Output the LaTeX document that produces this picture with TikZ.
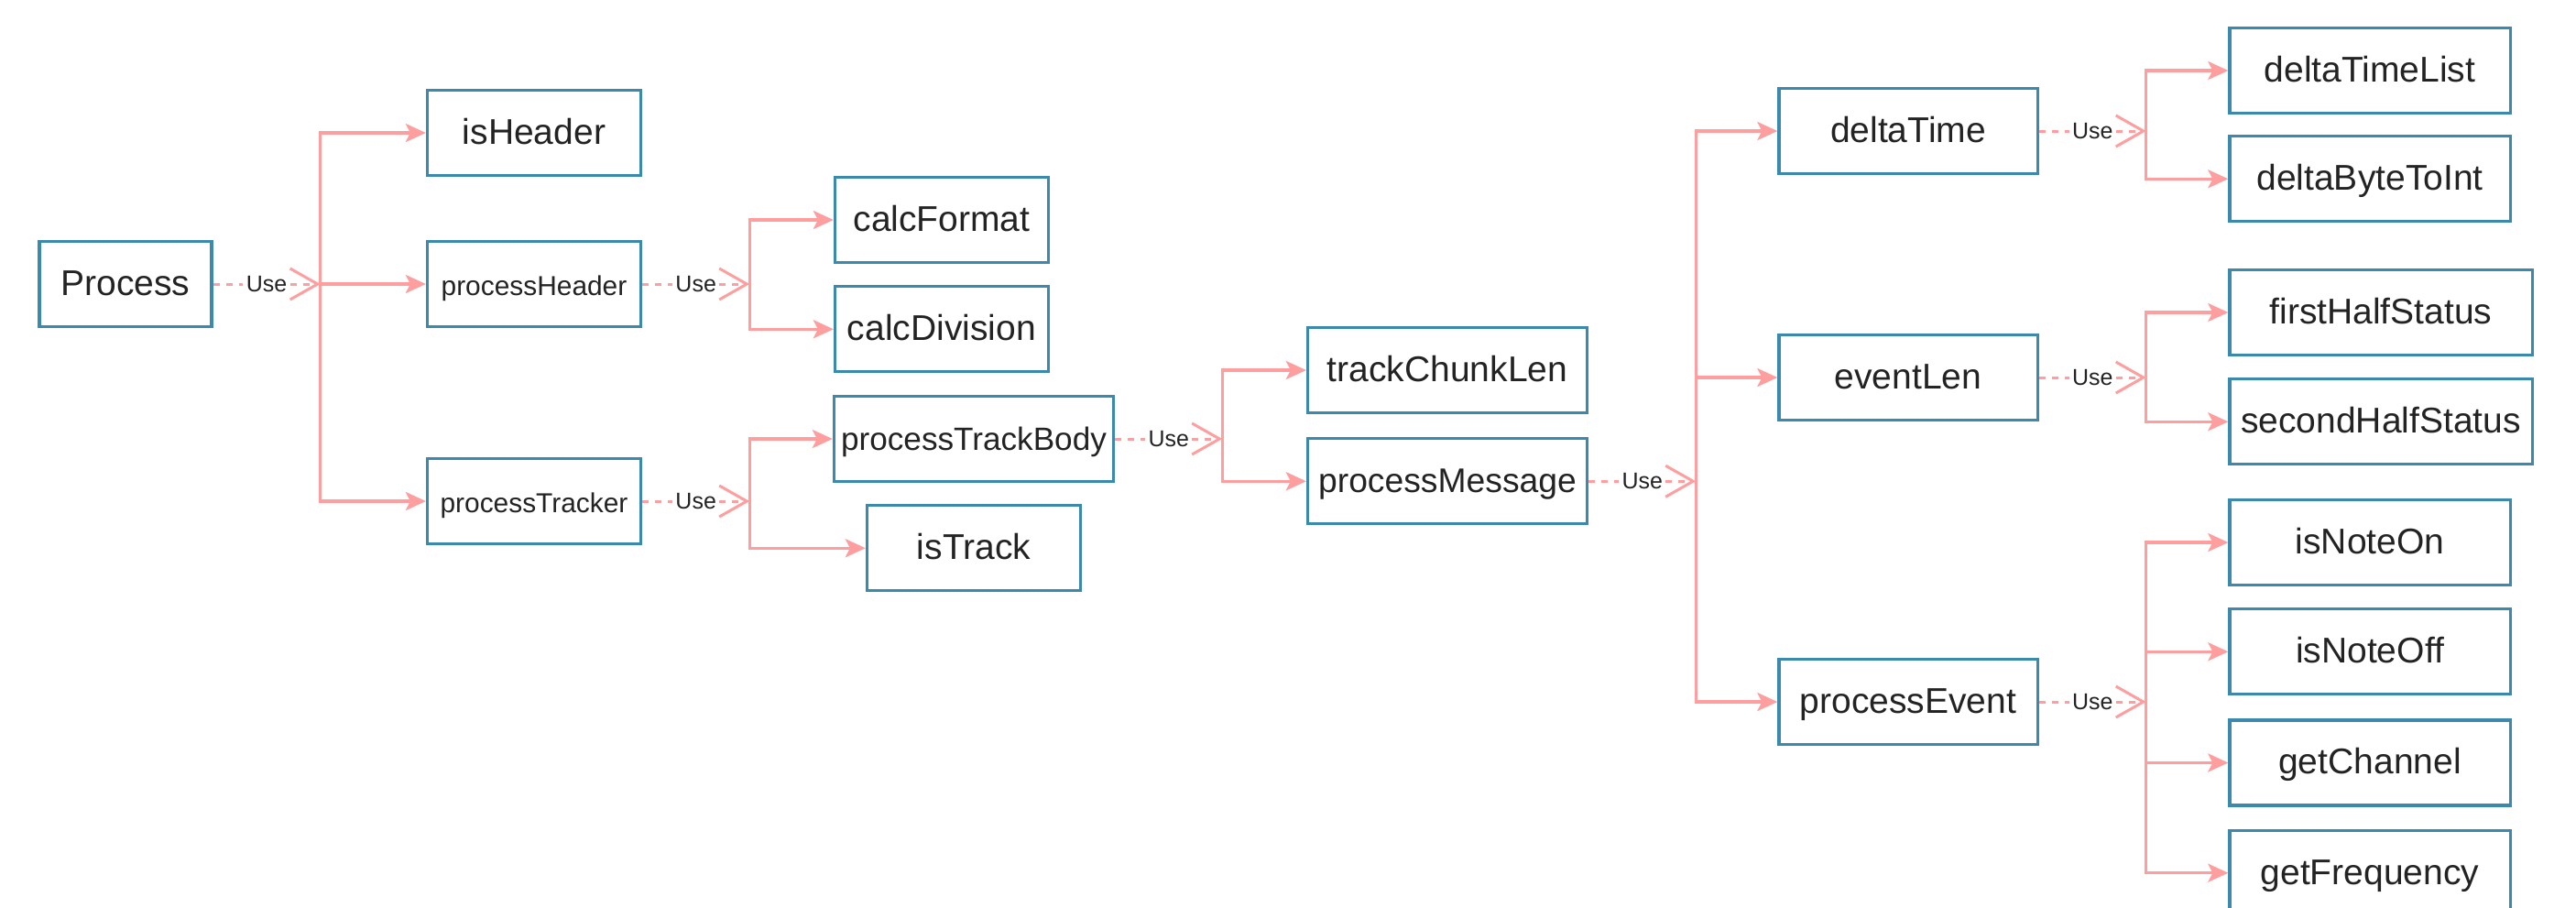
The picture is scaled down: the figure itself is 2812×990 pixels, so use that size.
\documentclass[tikz,border=0pt]{standalone}
\usepackage{fontspec}
\setmainfont{Liberation Sans}
\usetikzlibrary{arrows.meta,positioning}
\definecolor{boxblue}{RGB}{59,138,173}
\definecolor{linkpink}{RGB}{255,158,158}
\definecolor{txtgray}{RGB}{35,35,35}

\begin{document}
\begin{tikzpicture}[x=0.01cm,y=-0.01cm,
fn/.style={rectangle,draw=boxblue,line width=0.9pt,inner sep=0pt,minimum width=2.33cm,minimum height=0.93cm,text=txtgray,font=\fontsize{11.1}{13}\selectfont,text height=0.9em,text depth=0.2em},
fnsmall/.style={fn,font=\fontsize{8.5}{10}\selectfont},
uses/.style={draw=linkpink,line width=0.85pt,dash pattern=on 0.07cm off 0.07cm,-{Straight Barb[length=0.3cm,width=0.34cm]}},
calls/.style={draw=linkpink,line width=0.9pt,-{Stealth[length=0.22cm,width=0.2cm,inset=0.05cm]}},
uselbl/.style={fill=white,inner sep=1pt,text=txtgray,font=\fontsize{7.1}{8}\selectfont}
]
\useasboundingbox (0,0) rectangle (2812,990);

\node[fn,minimum width=1.88cm] (process) at (137,310) {Process};

\node[fn] (isHeader) at (583,145) {isHeader};
\node[fnsmall] (processHeader) at (583,310) {processHeader};
\node[fnsmall] (processTracker) at (583,547) {processTracker};

\node[fn] (calcFormat) at (1028,240) {calcFormat};
\node[fn,below=0.23cm of calcFormat] (calcDivision) {calcDivision};
\node[fn,minimum width=3.05cm,font=\fontsize{10}{12}\selectfont] (processTrackBody) at (1063,479) {processTrackBody};
\node[fn,below=0.23cm of processTrackBody] (isTrack) {isTrack};

\node[fn,minimum width=3.05cm] (trackChunkLen) at (1580,404) {trackChunkLen};
\node[fn,minimum width=3.05cm,below=0.25cm of trackChunkLen,font=\fontsize{10.6}{12}\selectfont] (processMessage) {processMessage};

\node[fn,minimum width=2.82cm] (deltaTime) at (2083,143) {deltaTime};
\node[fn,minimum width=2.82cm] (eventLen) at (2083,412) {eventLen};
\node[fn,minimum width=2.82cm] (processEvent) at (2083,766) {processEvent};

\node[fn,minimum width=3.06cm] (deltaTimeList) at (2587,77) {deltaTimeList};
\node[fn,minimum width=3.06cm,below=0.22cm of deltaTimeList] (deltaByteToInt) {deltaByteToInt};
\node[fn,minimum width=3.3cm] (firstHalfStatus) at (2599,341) {firstHalfStatus};
\node[fn,minimum width=3.3cm,below=0.23cm of firstHalfStatus] (secondHalfStatus) {secondHalfStatus};
\node[fn,minimum width=3.06cm] (isNoteOn) at (2587,592) {isNoteOn};
\node[fn,minimum width=3.06cm,below=0.23cm of isNoteOn] (isNoteOff) {isNoteOff};
\node[fn,minimum width=3.06cm,below=0.25cm of isNoteOff] (getChannel) {getChannel};
\node[fn,minimum width=3.06cm,below=0.24cm of getChannel] (getFrequency) {getFrequency};

\foreach \s/\j in {process/jProcess,processHeader/jHeader,processTracker/jTracker,processTrackBody/jBody,processMessage/jMessage,deltaTime/jDelta,eventLen/jEvent,processEvent/jNote}
  \coordinate (\j) at ([xshift=1.17cm]\s.east);

\foreach \s/\j in {process/jProcess,processHeader/jHeader,processTracker/jTracker,processTrackBody/jBody,processMessage/jMessage,deltaTime/jDelta,eventLen/jEvent,processEvent/jNote}
  \draw[uses] (\s) -- node[uselbl] {Use} (\j);

\foreach \j/\t in {jProcess/isHeader,jProcess/processHeader,jProcess/processTracker,
  jHeader/calcFormat,jHeader/calcDivision,jTracker/processTrackBody,jTracker/isTrack,
  jBody/trackChunkLen,jBody/processMessage,jMessage/deltaTime,jMessage/eventLen,jMessage/processEvent,
  jDelta/deltaTimeList,jDelta/deltaByteToInt,jEvent/firstHalfStatus,jEvent/secondHalfStatus,
  jNote/isNoteOn,jNote/isNoteOff,jNote/getChannel,jNote/getFrequency}
  \draw[calls] (\j) |- (\t.west);
\end{tikzpicture}
\end{document}
